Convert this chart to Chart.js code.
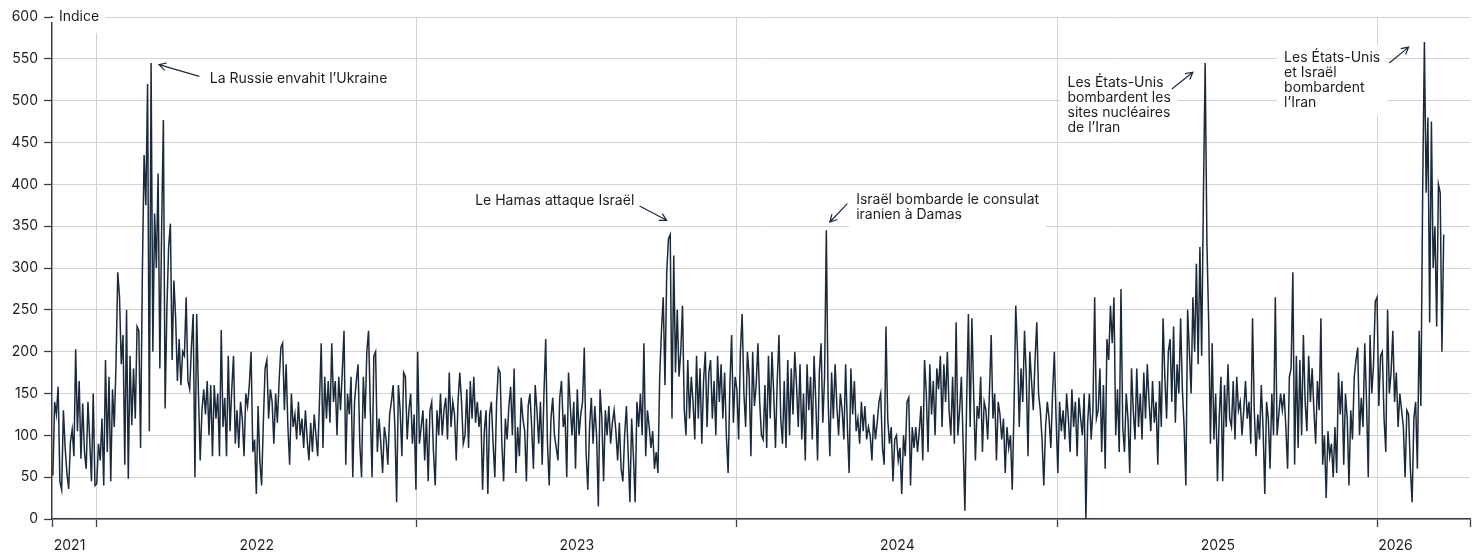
<!DOCTYPE html>
<html>
<head>
<meta charset="utf-8">
<script src="https://cdn.jsdelivr.net/npm/chart.js@4.4.1/dist/chart.umd.min.js"></script>
<style>
    html, body { margin: 0; padding: 0; background: #fff; }
    canvas { display: block; }
</style>
</head>
<body>
<canvas id="chartIndice" width="1480" height="552"></canvas>
<script>
// first point and spacing of the series (one value every 2 days)
const firstDate = '2021-11-12';
const stepDays = 2;
const axisStart = '2021-11-11';
const axisEnd = '2026-04-16';
const years = [2021, 2022, 2023, 2024, 2025, 2026];
const yTicks = [0, 50, 100, 150, 200, 250, 300, 350, 400, 450, 500, 550, 600];

const vals2021 = [52,140,125,158,45,35,130,85,55,36,92,107,75,203,105,165,72,138,80,60,140,95,45,150,40];
const vals2022 = [42,90,70,120,40,
    190,80,170,45,155,110,185,295,265,185,220,65,250,48,195,112,180,120,230,225,
    85,290,435,375,520,105,545,200,365,300,413,180,345,477,132,250,325,353,190,285,
    240,165,215,160,200,195,265,165,155,205,245,50,245,150,
    70,130,155,125,165,100,160,75,160,120,150,75,226,110,145,75,195,105,155,195,
    90,130,85,140,120,75,150,135,160,200,80,95,30,135,70,40,115,180,190,120,
    155,140,90,150,115,165,205,210,130,185,110,65,150,110,125,95,140,100,120,85,
    130,95,70,115,80,125,100,75,140,210,85,170,120,165,115,210,140,165,100,170,
    130,175,225,65,150,125,170,50,140,165,185,90,50,170,120,200,225,
    130,50,195,200,80,120,90,55,110,95,65,125,140,160,110,20,160,130,75,175,
    170,95,130,150,90,125,35];
const vals2023 = [200,90,110,
    130,70,120,45,130,140,80,40,130,100,150,100,130,145,95,175,110,140,125,70,
    140,175,140,90,100,155,85,165,120,170,115,140,110,130,35,105,130,30,125,140,
    90,50,140,180,175,90,45,120,95,135,158,100,180,55,110,75,145,120,105,45,
    135,150,110,60,160,130,90,140,65,150,
    215,90,40,120,145,100,85,70,145,165,110,125,50,175,135,100,140,60,155,100,
    125,140,205,80,35,110,145,90,135,100,15,155,120,45,130,100,135,90,115,130,
    105,70,115,60,45,100,135,80,20,120,75,20,140,110,150,100,210,75,130,110,
    85,105,60,80,55,170,225,265,160,295,335,340,120,315,175,250,170,200,255,130,
    100,190,120,170,140,95,195,120,180,90,165,200,110,175,190,120,165,100,195,140,
    185,120,175,100,55,160,220,115,170];
const vals2024 = [155,95,200,245,150,110,
    200,170,75,200,135,160,210,140,100,95,160,85,195,120,200,150,85,165,220,120,
    90,165,85,190,100,180,125,200,160,110,185,95,150,70,185,130,170,95,195,140,
    70,175,210,115,170,345,145,75,175,120,185,135,100,150,130,95,185,110,55,180,
    125,165,105,120,90,140,105,135,95,110,100,70,125,95,115,140,150,85,65,230,
    120,90,110,45,95,100,70,85,30,100,75,140,145,40,110,
    85,110,80,105,135,70,190,150,80,185,125,165,100,180,155,195,110,185,140,200,
    130,100,170,90,235,100,130,170,90,10,140,245,110,240,150,70,135,120,170,80,
    140,130,95,150,220,120,150,70,140,125,95,120,55,110,85,100,35,130,255,200,
    110,180,140,225,170,75,200,165,130,190,235,150,130,95,40,110,140,120,85,150,
    200,120];
const vals2025 = [55,140,105,130,95,150,120,80,
    155,110,140,75,145,120,100,150,0,115,150,95,130,265,120,
    130,180,80,160,60,215,190,255,210,265,100,155,80,275,110,80,150,120,55,180,
    130,95,180,110,150,95,175,120,185,140,105,165,115,140,65,165,110,240,170,120,
    200,215,140,230,115,185,150,240,155,110,40,250,200,150,265,200,305,185,325,195,
    385,545,330,235,90,210,95,150,45,120,170,45,160,110,185,120,110,165,95,170,
    130,140,100,130,165,120,140,90,240,130,75,125,95,160,110,30,140,120,60,150,
    100,265,100,125,150,
    130,150,110,60,170,180,295,65,195,85,190,100,220,140,105,195,140,180,130,90,
    165,130,240,65,100,25,105,75,90,50,110,55,175,125,165,65,150,120,40,130,
    95,170,190,205,100,145,110,210,140,50,220,150,185,260,265];
const vals2026 = [135,195,200,120,80,
    250,150,175,225,140,175,110,150,130,110,50,130,125,60,20,120,140,60,225,135,
    390,570,390,480,235,475,300,350,230,400,390,200,340];

// annotations: x in days since 2022-01-01, y in index units
const notes = [
    { lines: ['La Russie envahit l’Ukraine'], x: 129, y: 526, align: 'left', from: [117, 529], to: [71, 543] },
    { lines: ['Le Hamas attaque Israël'], x: 613, y: 380, align: 'right', from: [619, 374], to: [650, 357] },
    { lines: ['Israël bombarde le consulat', 'iranien à Damas'], x: 866, y: 382, align: 'left', from: [856, 377], to: [836, 355] },
    { lines: ['Les États-Unis', 'bombardent les', 'sites nucléaires', 'de l’Iran'], x: 1107, y: 521, align: 'left', from: [1226, 514], to: [1250, 534] },
    { lines: ['Les États-Unis', 'et Israël', 'bombardent', 'l’Iran'], x: 1354, y: 551, align: 'left', from: [1474, 545], to: [1496, 564] }
];

const FONT = '14px Inter, "Noto Sans", sans-serif';
const INK = '#1b2a3b';
const TEXT = '#1e1e1e';
const GRID = '#d2d2d2';
const AXIS = '#3c3c48';

function dayOf(iso) {
    const p = iso.split('-').map(Number);
    return Math.round((Date.UTC(p[0], p[1] - 1, p[2]) - Date.UTC(2022, 0, 1)) / 86400000);
}

const allVals = [].concat(vals2021, vals2022, vals2023, vals2024, vals2025, vals2026);
const d0 = dayOf(firstDate);
const points = allVals.map((v, i) => ({ x: d0 + i * stepDays, y: v }));

const xMin = dayOf(axisStart);
const xMax = dayOf(axisEnd);

// ticks: axis ends, year boundaries (grid), year labels
const xTicks = [{ value: xMin, kind: 'end' }, { value: xMax, kind: 'end' }];
years.forEach(y => {
    const ys = dayOf(y + '-01-01');
    const ye = dayOf((y + 1) + '-01-01');
    if (ys > xMin) xTicks.push({ value: ys, kind: 'year' });
    const s = Math.max(ys, xMin);
    const e = Math.min(ye, xMax);
    const pos = (s === ys && e === ye) ? (s + e) / 2 : s + 20;
    xTicks.push({ value: pos, kind: 'label', txt: String(y) });
});
xTicks.sort((a, b) => a.value - b.value);

const annotations = {
    id: 'annotations',
    beforeDatasetsDraw(chart) {
        const { ctx, chartArea, scales: { x, y } } = chart;
        ctx.save();
        ctx.font = FONT;
        ctx.textBaseline = 'middle';

        // "Indice" label on the top grid line
        const iy = y.getPixelForValue(600);
        const iw = ctx.measureText('Indice').width;
        ctx.fillStyle = '#fff';
        ctx.fillRect(chartArea.left + 3, iy - 13, iw + 10, 29);
        ctx.fillRect(chartArea.left - 2, iy + 1, 5, 4);
        ctx.fillStyle = TEXT;
        ctx.textAlign = 'left';
        ctx.fillText('Indice', chartArea.left + 7, iy);

        for (const n of notes) {
            const px = x.getPixelForValue(n.x);
            const py = y.getPixelForValue(n.y);
            const w = Math.max(...n.lines.map(l => ctx.measureText(l).width));
            const left = n.align === 'left' ? px : px - w;
            ctx.fillStyle = '#fff';
            ctx.fillRect(left - 7, py - 13, w + 14, n.lines.length * 15 + 11);
            ctx.fillStyle = TEXT;
            ctx.textAlign = n.align;
            n.lines.forEach((l, k) => ctx.fillText(l, px, py + k * 15));
        }
        ctx.restore();
    },
    afterDatasetsDraw(chart) {
        const { ctx, scales: { x, y } } = chart;
        ctx.save();
        ctx.strokeStyle = INK;
        ctx.lineWidth = 1.2;
        for (const n of notes) {
            const x1 = x.getPixelForValue(n.from[0]), y1 = y.getPixelForValue(n.from[1]);
            const x2 = x.getPixelForValue(n.to[0]), y2 = y.getPixelForValue(n.to[1]);
            const a = Math.atan2(y2 - y1, x2 - x1);
            ctx.beginPath();
            ctx.moveTo(x1, y1);
            ctx.lineTo(x2, y2);
            ctx.moveTo(x2 - 8 * Math.cos(a - 0.5), y2 - 8 * Math.sin(a - 0.5));
            ctx.lineTo(x2, y2);
            ctx.lineTo(x2 - 8 * Math.cos(a + 0.5), y2 - 8 * Math.sin(a + 0.5));
            ctx.stroke();
        }
        ctx.restore();
    }
};

Chart.defaults.font.family = 'Inter, "Noto Sans", sans-serif';
Chart.defaults.font.size = 14;
Chart.defaults.color = TEXT;

const ctxIndice = document.getElementById('chartIndice').getContext('2d');
new Chart(ctxIndice, {
    type: 'line',
    data: {
        datasets: [{
            label: 'Indice',
            data: points,
            borderColor: INK,
            borderWidth: 1.5,
            pointRadius: 0,
            tension: 0,
            fill: false
        }]
    },
    plugins: [annotations],
    options: {
        responsive: false,
        animation: false,
        layout: { padding: { top: 17, right: 7, left: 0, bottom: 0 } },
        plugins: {
            legend: { display: false },
            tooltip: { enabled: false }
        },
        scales: {
            x: {
                type: 'linear',
                min: xMin,
                max: xMax,
                afterBuildTicks: scale => { scale.ticks = xTicks.map(t => Object.assign({}, t)); },
                afterFit: scale => { scale.height = 33; },
                ticks: {
                    autoSkip: false,
                    maxRotation: 0,
                    padding: 10,
                    color: TEXT,
                    callback: (v, i, t) => t[i].txt || ''
                },
                grid: {
                    color: c => (c.tick && c.tick.kind === 'year') ? GRID : 'transparent',
                    tickColor: c => (c.tick && c.tick.kind !== 'label') ? AXIS : 'transparent',
                    tickLength: 8,
                    lineWidth: 1,
                    tickWidth: 1.3
                },
                border: { color: AXIS, width: 1.5 }
            },
            y: {
                min: 0,
                max: 600,
                afterBuildTicks: scale => { scale.ticks = yTicks.map(v => ({ value: v })); },
                afterFit: scale => { scale.width = 52; },
                ticks: { padding: 6, color: TEXT },
                grid: {
                    color: GRID,
                    tickColor: AXIS,
                    tickLength: 8,
                    lineWidth: 1,
                    tickWidth: 1.3
                },
                border: { color: AXIS, width: 1.5 }
            }
        }
    }
});
</script>
</body>
</html>
